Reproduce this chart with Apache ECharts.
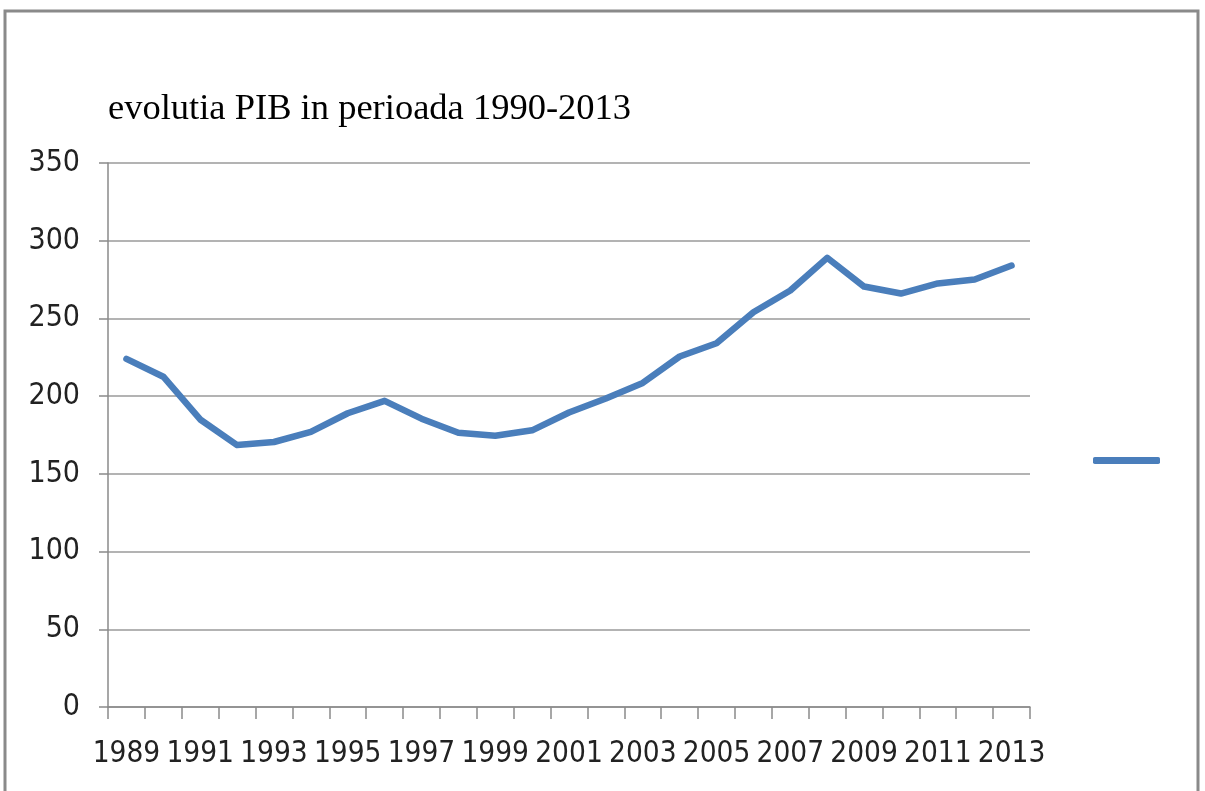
<!DOCTYPE html>
<html>
<head>
    <meta charset="UTF-8">
    <title>evolutia PIB</title>
    <script src="https://cdn.jsdelivr.net/npm/echarts@6/dist/echarts.min.js"></script>
    <style>
        html, body {margin: 0; padding: 0; background: #fff;}
    </style>
</head>
<body>

<div id="main" style="width: 1205px;height:791px;"></div>

<script>
    // ani 1989 - 2013
    var years = ['1989', '1990', '1991', '1992', '1993', '1994', '1995', '1996', '1997', '1998',
        '1999', '2000', '2001', '2002', '2003', '2004', '2005', '2006', '2007', '2008',
        '2009', '2010', '2011', '2012', '2013'];

    // PIB
    var pib = [224, 212.5, 185, 168.5, 170.5, 177, 189, 197, 185.5, 176.5,
        174.5, 178, 189.5, 198.5, 208.5, 225.5, 234, 254, 268, 289,
        270.5, 266, 272.5, 275, 284];

    var yTicks = [0, 50, 100, 150, 200, 250, 300, 350];

    var titleText = 'evolutia PIB in perioada 1990-2013';
    var seriesName = 'PIB';

    var lineColor = '#4a7ebb';
    var gridColor = '#9a9a9a';
    var labelFont = "'DejaVu Sans Condensed', 'Liberation Sans', sans-serif";

    var myChart = echarts.init(document.getElementById('main'));

    var option = {
        backgroundColor: '#fff',
        animation: false,
        title: {
            text: titleText,
            left: 103,
            top: 86,
            textStyle: {
                fontFamily: "'Liberation Serif', 'DejaVu Serif', serif",
                fontWeight: 'normal',
                fontSize: 36.5,
                color: '#000'
            }
        },
        legend: {
            data: [seriesName],
            left: 1088,
            top: 452,
            icon: 'roundRect',
            itemWidth: 67,
            itemHeight: 7,
            formatter: function () { return ''; },
            itemStyle: {color: lineColor}
        },
        graphic: [{
            type: 'rect',
            shape: {x: 5, y: 11, width: 1193, height: 800},
            style: {fill: 'none', stroke: '#8a8a8a', lineWidth: 3},
            silent: true
        }],
        grid: {
            left: 108,
            right: 175,
            top: 163,
            bottom: 84
        },
        xAxis: {
            type: 'category',
            data: years,
            boundaryGap: true,
            axisLine: {lineStyle: {color: '#8a8a8a', width: 1.5}},
            axisTick: {
                show: true,
                interval: 0,
                length: 12,
                lineStyle: {color: '#8a8a8a', width: 1.5}
            },
            axisLabel: {
                interval: 1,
                margin: 32,
                fontSize: 29.5,
                fontFamily: labelFont,
                color: '#222'
            },
            splitLine: {show: false}
        },
        yAxis: {
            type: 'value',
            min: yTicks[0],
            max: yTicks[yTicks.length - 1],
            interval: 50,
            axisLine: {show: true, lineStyle: {color: '#8a8a8a', width: 1.5}},
            axisTick: {show: true, length: 9, inside: false, lineStyle: {color: '#8a8a8a', width: 1.5}},
            axisLabel: {
                margin: 28,
                fontSize: 30,
                fontFamily: labelFont,
                color: '#222'
            },
            splitLine: {show: true, lineStyle: {color: gridColor, width: 1.5}}
        },
        series: [{
            name: seriesName,
            type: 'line',
            data: pib,
            showSymbol: false,
            symbol: 'none',
            color: lineColor,
            lineStyle: {color: lineColor, width: 6.5, cap: 'round', join: 'round'}
        }]
    };

    myChart.setOption(option);
</script>

</body>
</html>
